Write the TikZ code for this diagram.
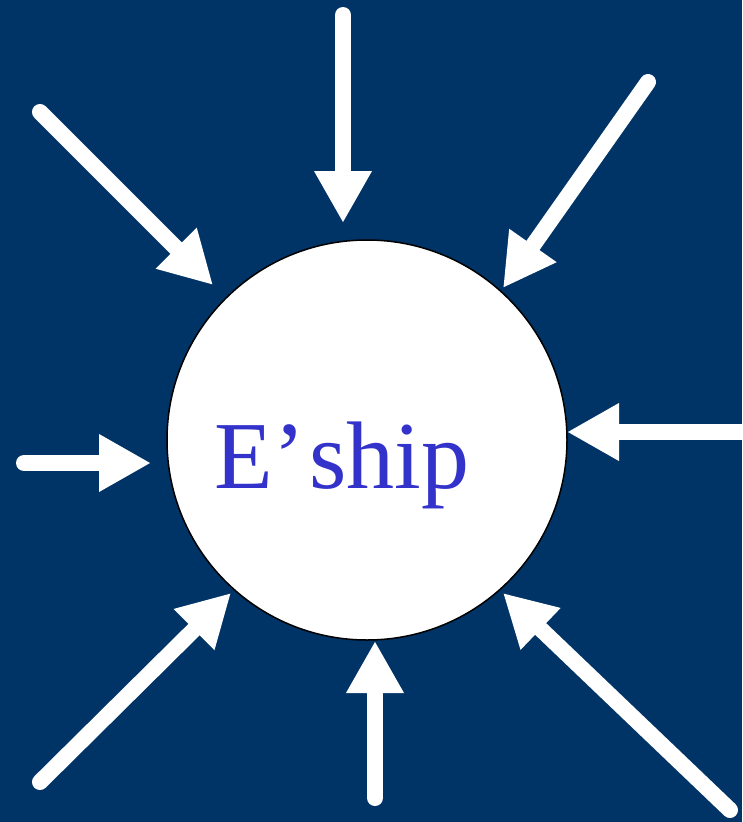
\documentclass[tikz,border=0pt]{standalone}
\usepackage{fontspec}
\setmainfont{Liberation Serif}
\usetikzlibrary{arrows.meta}
\definecolor{bgblue}{HTML}{003366}
\definecolor{txtblue}{HTML}{3333CC}
\tikzset{
  ray/.style={draw=white, line width=16pt, line cap=round,
    -{Triangle[width=54pt,length=52pt]}},
}
\begin{document}
\begin{tikzpicture}[x=1pt,y=-1pt]
\fill[bgblue] (0,0) rectangle (742,822);
\useasboundingbox (0,0) rectangle (742,822);
\node[circle, draw=black, line width=1.5pt, fill=white, minimum size=400pt, inner sep=0pt] (c) at (367,440) {};
\node[anchor=base, text=txtblue, font=\fontsize{96}{96}\selectfont, inner sep=0pt] (t) at (342,488) {E’\kern4pt ship};
\coordinate (s1) at (343,15);  \coordinate (e1) at (343,223);
\coordinate (s2) at (40,112);  \coordinate (e2) at (213,285);
\coordinate (s3) at (648,82);  \coordinate (e3) at (503,288);
\coordinate (s4) at (24,463);  \coordinate (e4) at (151,463);
\coordinate (s5) at (752,432); \coordinate (e5) at (567,432);
\coordinate (s6) at (40,782);  \coordinate (e6) at (231,593);
\coordinate (s7) at (375,798); \coordinate (e7) at (375,641);
\coordinate (s8) at (730,810); \coordinate (e8) at (503,593);
\foreach \i in {1,...,8} { \draw[ray] (s\i) -- (e\i); }
\end{tikzpicture}
\end{document}
